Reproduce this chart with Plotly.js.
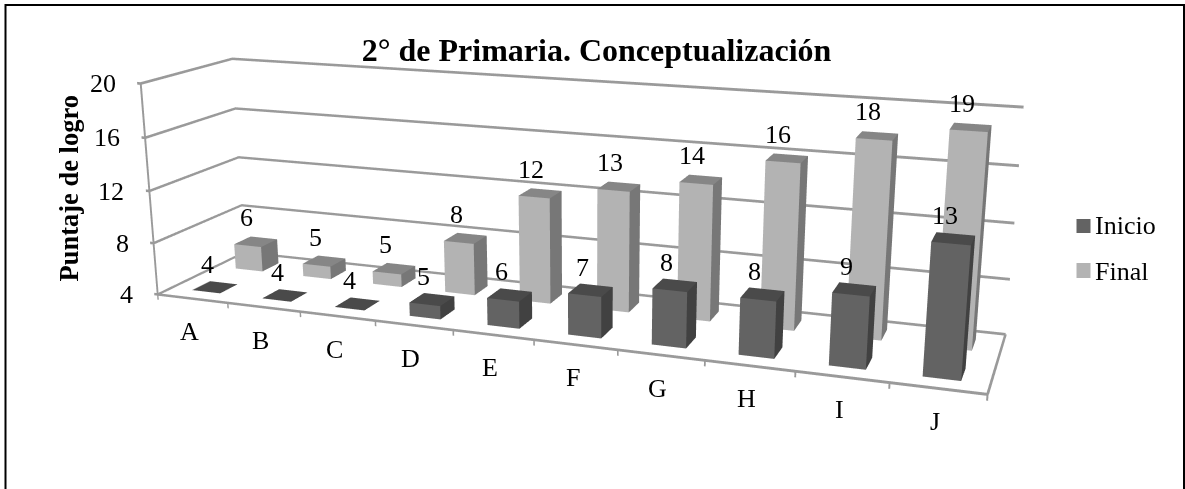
<!DOCTYPE html>
<html><head><meta charset="utf-8">
<script src="https://cdn.plot.ly/plotly-3.0.1.min.js"></script>
<style>html,body{margin:0;padding:0;width:1185px;height:489px;overflow:hidden;background:#fff}
#wrap{position:absolute;left:0;top:0;width:1185px;height:489px;overflow:hidden}
#chart{position:absolute;left:-12.5px;top:-388px}</style>
</head><body><div id="wrap"><div id="chart"></div></div>
<script>
const categories=['A','B','C','D','E','F','G','H','I','J'];
const inicio=[4,4,4,5,6,7,8,8,9,13];
const final_=[6,5,5,8,12,13,14,16,18,19];
const zTicks=[4,8,12,16,20];
const FONT='"Liberation Serif","Times New Roman",serif';
const W=1197,H=1279,TOP=388,LEFT=12.5;
const px=x=>(x+LEFT)/W, py=y=>1-(y+TOP)/H;
const N=categories.length, ZMIN=zTicks[0], ZMAX=zTicks[zTicks.length-1];

function newMesh(name){return {X:[],Y:[],Z:[],I:[],J:[],K:[],C:[],name};}
function quad(m,pts,col){
  const n=m.X.length;
  pts.forEach(p=>{m.X.push(p[0]);m.Y.push(p[1]);m.Z.push(p[2]);});
  m.I.push(n,n);m.J.push(n+1,n+2);m.K.push(n+2,n+3);m.C.push(col,col);
}
function toTrace(m){
  return {type:'mesh3d',name:m.name,x:m.X,y:m.Y,z:m.Z,i:m.I,j:m.J,k:m.K,facecolor:m.C,flatshading:true,showlegend:false,hoverinfo:'skip',
    lighting:{ambient:1,diffuse:0,specular:0,roughness:1,fresnel:0},lightposition:{x:0,y:0,z:1000}};
}
function barMesh(name,vals,slot,cFront,cTop,cSide){
  const m=newMesh(name);
  vals.forEach((v,i)=>{
    const x0=i+.3,x1=i+.7,y0=slot+.3,y1=slot+.7,z0=ZMIN,z1=v;
    quad(m,[[x0,y0,z1],[x1,y0,z1],[x1,y1,z1],[x0,y1,z1]],cTop);
    if(z1>z0){
      quad(m,[[x0,y0,z0],[x1,y0,z0],[x1,y0,z1],[x0,y0,z1]],cFront);
      quad(m,[[x1,y0,z0],[x1,y1,z0],[x1,y1,z1],[x1,y0,z1]],cSide);
    }
  });
  return toTrace(m);
}
function frameMesh(col){
  const m=newMesh('axes'),h=.1,d=.014;
  zTicks.forEach(z=>{
    quad(m,[[0,2,z-h],[N,2,z-h],[N,2,z+h],[0,2,z+h]],col);
    quad(m,[[0,0,z-h],[0,2,z-h],[0,2,z+h],[0,0,z+h]],col);
    quad(m,[[-.05,0,z-h],[0,0,z-h],[0,0,z+h],[-.05,0,z+h]],col);
  });
  quad(m,[[0,0,ZMIN-h],[N,0,ZMIN-h],[N,0,ZMIN+h],[0,0,ZMIN+h]],col);
  quad(m,[[N-d,0,ZMIN],[N+d,0,ZMIN],[N+d,2,ZMIN],[N-d,2,ZMIN]],col);
  quad(m,[[-d,0,ZMIN],[d,0,ZMIN],[d,0,ZMAX],[-d,0,ZMAX]],col);
  for(let i=0;i<=N;i++) quad(m,[[i-.01,0,ZMIN-.42],[i+.01,0,ZMIN-.42],[i+.01,0,ZMIN],[i-.01,0,ZMIN]],col);
  return toTrace(m);
}
const traces=[
  frameMesh('#9a9a9a'),
  barMesh('Final',final_,1,'#b3b3b3','#868686','#777777'),
  barMesh('Inicio',inicio,0,'#636363','#4a4a4a','#414141')
];
const ann=[];
const T=(x,y,z,text,xshift,yshift,xanchor)=>ann.push({x,y,z,text,showarrow:false,xshift,yshift,xanchor:xanchor||'center',yanchor:'middle',font:{family:FONT,size:26,color:'#000'}});
inicio.forEach((v,i)=>T(i+.5,.5,v,String(v),-8,23));
final_.forEach((v,i)=>T(i+.5,1.5,v,String(v),-9,24));
categories.forEach((c,i)=>T(i+.5,0,ZMIN,c,-3,-33));
zTicks.forEach(v=>T(0,0,v,String(v),-23,0,'right'));

const hidden={visible:false,showbackground:false,showgrid:false,zeroline:false,showticklabels:false,showspikes:false,title:{text:''}};
const paperText=(x,y,text,size,extra)=>Object.assign({xref:'paper',yref:'paper',x:px(x),y:py(y),text,showarrow:false,xanchor:'center',yanchor:'middle',font:{family:FONT,size,color:'#000'}},extra||{});
const sq=(x0,y0,x1,y1,c)=>({type:'rect',xref:'paper',yref:'paper',x0:px(x0),x1:px(x1),y0:py(y0),y1:py(y1),line:{width:0},fillcolor:c});
const layout={
  width:W,height:H,margin:{l:0,r:0,t:0,b:0},paper_bgcolor:'rgba(0,0,0,0)',
  title:{text:'<b>2° de Primaria. Conceptualización</b>',x:px(596),xref:'paper',y:py(50),yref:'paper',xanchor:'center',yanchor:'middle',font:{family:FONT,size:32,color:'#000'}},
  showlegend:false,
  shapes:[
    {type:'rect',xref:'paper',yref:'paper',x0:px(5),x1:px(1183.5),y0:py(5),y1:py(530),line:{color:'#000',width:2},fillcolor:'rgba(0,0,0,0)'},
    sq(1076,219,1090,233,'#636363'),sq(1076,263,1090,278,'#b3b3b3')],
  annotations:[
    paperText(68,189,'<b>Puntaje de logro</b>',26.5,{textangle:-90}),
    paperText(1092,226,'Inicio',26,{xanchor:'left'}),
    paperText(1092,271,'Final',26,{xanchor:'left'})],
  scene:{
    domain:{x:[0,1],y:[0,1]},
    aspectmode:'manual',aspectratio:{x:2.04,y:.4389,z:.5589},
    camera:{eye:{x:1.227,y:-3.265,z:.894},center:{x:.058,y:-.0099,z:-.101},up:{x:0,y:0,z:1},projection:{type:'perspective'}},
    xaxis:Object.assign({},hidden,{range:[-.1,10.1]}),
    yaxis:Object.assign({},hidden,{range:[-.1,2.1]}),
    zaxis:Object.assign({},hidden,{range:[3.5,20.5]}),
    annotations:ann
  }
};
Plotly.newPlot('chart',traces,layout,{displayModeBar:false});
</script></body></html>
